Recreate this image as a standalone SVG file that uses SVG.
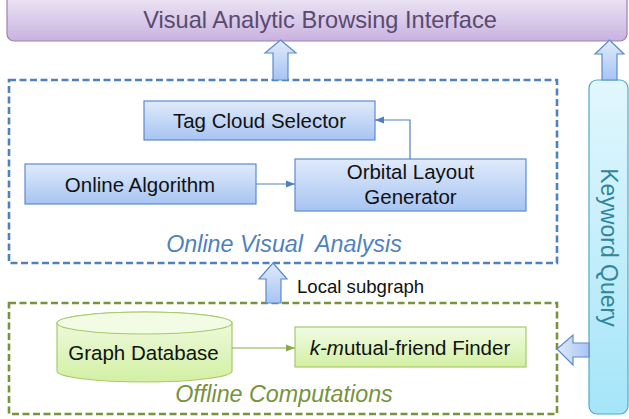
<svg xmlns="http://www.w3.org/2000/svg" width="629" height="419" viewBox="0 0 629 419">
  <defs>
    <linearGradient id="gPurple" x1="0" y1="0" x2="0" y2="1">
      <stop offset="0" stop-color="#efe9f7"/>
      <stop offset="1" stop-color="#c8b2df"/>
    </linearGradient>
    <linearGradient id="gBlue" x1="0" y1="0" x2="0" y2="1">
      <stop offset="0" stop-color="#e0ebfb"/>
      <stop offset="1" stop-color="#a7c4f2"/>
    </linearGradient>
    <linearGradient id="gBlueH" x1="1" y1="0" x2="0" y2="0">
      <stop offset="0" stop-color="#a7c4f2"/>
      <stop offset="1" stop-color="#e0ebfb"/>
    </linearGradient>
    <linearGradient id="gGreen" x1="0" y1="0" x2="0" y2="1">
      <stop offset="0" stop-color="#f2fbe4"/>
      <stop offset="1" stop-color="#d2f0a3"/>
    </linearGradient>
    <linearGradient id="gCyan" x1="0" y1="0" x2="0" y2="1">
      <stop offset="0" stop-color="#e2f7fd"/>
      <stop offset="1" stop-color="#a5e5f9"/>
    </linearGradient>
    <marker id="arrBlue" viewBox="0 0 10 10" refX="10" refY="5" markerWidth="9" markerHeight="9" markerUnits="userSpaceOnUse" orient="auto">
      <path d="M0,1 L10,5 L0,9 Z" fill="#4f81bd"/>
    </marker>
    <marker id="arrGreen" viewBox="0 0 10 10" refX="10" refY="5" markerWidth="9" markerHeight="9" markerUnits="userSpaceOnUse" orient="auto">
      <path d="M0,1 L10,5 L0,9 Z" fill="#8aab4a"/>
    </marker>
  </defs>
  <style>
    text { font-family: "Liberation Sans", Arial, sans-serif; }
    .lbl { font-size: 20.5px; fill: #111; text-anchor: middle; }
    .box { fill: url(#gBlue); stroke: #5b8bd0; stroke-width: 1.2; }
    .gbox { fill: url(#gGreen); stroke: #a8c96a; stroke-width: 1.2; }
    .block { fill: url(#gBlue); stroke: #5b8bd0; stroke-width: 1.2; }
    .title { font-size: 23.3px; font-style: italic; text-anchor: middle; }
  </style>

  <!-- browsing interface bar -->
  <g id="interface">
    <rect x="7" y="-6" width="620" height="47" rx="7" fill="url(#gPurple)" stroke="#9a82b6" stroke-width="1.2"/>
    <text x="320" y="28" font-size="23.6" fill="#5a4a6e" text-anchor="middle">Visual Analytic Browsing Interface</text>
  </g>

  <!-- online analysis container -->
  <g id="online-analysis">
    <rect x="9" y="80" width="548" height="183" fill="none" stroke="#4f81bd" stroke-width="2.6" stroke-dasharray="7 3.5"/>
    <text class="title" x="284" y="252" fill="#4f81bd" xml:space="preserve">Online Visual  Analysis</text>
  </g>

  <g id="tag-cloud">
    <rect class="box" x="144" y="101" width="231" height="39"/>
    <text class="lbl" x="259.5" y="128">Tag Cloud Selector</text>
  </g>

  <g id="online-algorithm">
    <rect class="box" x="25" y="164" width="231" height="40"/>
    <text class="lbl" x="140" y="192">Online Algorithm</text>
  </g>

  <g id="orbital-layout">
    <rect class="box" x="295" y="159" width="231" height="52"/>
    <text class="lbl" x="410.5" y="179">Orbital Layout</text>
    <text class="lbl" x="410.5" y="204">Generator</text>
  </g>

  <!-- offline computations container -->
  <g id="offline-computations">
    <rect x="9" y="303" width="548" height="111" fill="none" stroke="#77933c" stroke-width="2.6" stroke-dasharray="7 3.5"/>
    <text class="title" x="284" y="402" fill="#77933c">Offline Computations</text>
  </g>

  <g id="graph-database">
    <path class="gbox" d="M57,323 L57,371 A87.5,11 0 0 0 232,371 L232,323 A87.5,11 0 0 0 57,323 Z"/>
    <ellipse cx="144.5" cy="323" rx="87.5" ry="11" fill="#f2fbe4" stroke="#a8c96a" stroke-width="1.2"/>
    <text class="lbl" x="143.5" y="360">Graph Database</text>
  </g>

  <g id="k-finder">
    <rect class="gbox" x="295" y="327" width="231" height="40"/>
    <text class="lbl" x="410" y="355"><tspan font-style="italic">k-m</tspan>utual-friend Finder</text>
  </g>

  <g id="keyword-query">
    <rect x="589" y="80" width="39" height="334" rx="8" fill="url(#gCyan)" stroke="#4bacc6" stroke-width="1.2"/>
    <text x="609" y="247.5" font-size="23" fill="#31859c" text-anchor="middle" transform="rotate(90 609 247.5)" dy="8">Keyword Query</text>
  </g>

  <!-- connectors -->
  <g id="connectors">
    <line x1="256" y1="184" x2="295" y2="184" stroke="#4f81bd" stroke-width="1.2" marker-end="url(#arrBlue)"/>
    <polyline points="410,159 410,120 375,120" fill="none" stroke="#4f81bd" stroke-width="1.2" marker-end="url(#arrBlue)"/>
    <line x1="232" y1="348" x2="295" y2="348" stroke="#8aab4a" stroke-width="1.2" marker-end="url(#arrGreen)"/>

    <!-- block arrows -->
    <path class="block" d="M280.5,40 L296,53 L288,53 L288,80 L273,80 L273,53 L265,53 Z"/>
    <path class="block" d="M609.5,40 L624,54 L617,54 L617,80 L602,80 L602,54 L595,54 Z"/>
    <path class="block" d="M273,263 L287,279 L281,279 L281,303 L266,303 L266,279 L259,279 Z"/>
    <path d="M557,349 L573,335 L573,343 L589,343 L589,357 L573,357 L573,365 Z" fill="url(#gBlueH)" stroke="#5b8bd0" stroke-width="1.2"/>
    <text x="297" y="293" font-size="18.6" fill="#111">Local subgraph</text>
  </g>
</svg>
